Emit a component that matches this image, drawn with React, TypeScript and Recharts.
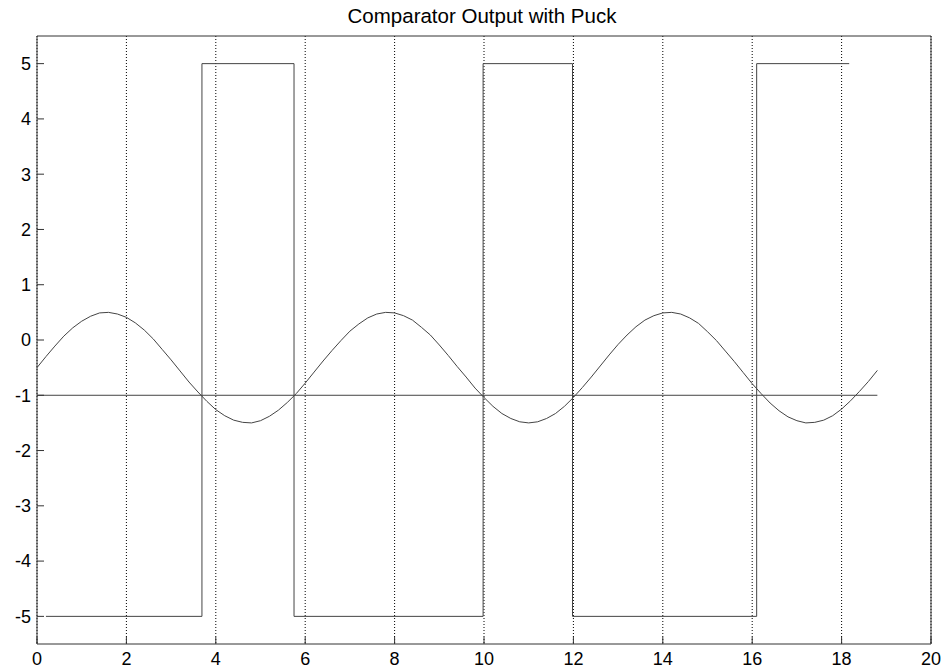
import React from 'react';
import { LineChart, Line, XAxis, YAxis, CartesianGrid } from 'recharts';

const xTicks = [0, 2, 4, 6, 8, 10, 12, 14, 16, 18, 20];
const yTicks = [-5, -4, -3, -2, -1, 0, 1, 2, 3, 4, 5];

const sineX = [
  0, 0.2, 0.4, 0.6, 0.8, 1.0, 1.2, 1.4, 1.6, 1.8, 2.0, 2.2, 2.4, 2.6, 2.8, 3.0, 3.2, 3.4, 3.6, 3.8,
  4.0, 4.2, 4.4, 4.6, 4.8, 5.0, 5.2, 5.4, 5.6, 5.8, 6.0, 6.2, 6.4, 6.6, 6.8, 7.0, 7.2, 7.4, 7.6, 7.8,
  8.0, 8.2, 8.4, 8.6, 8.8, 9.0, 9.2, 9.4, 9.6, 9.8, 10.0, 10.2, 10.4, 10.6, 10.8, 11.0, 11.2, 11.4, 11.6, 11.8,
  12.0, 12.2, 12.4, 12.6, 12.8, 13.0, 13.2, 13.4, 13.6, 13.8, 14.0, 14.2, 14.4, 14.6, 14.8, 15.0, 15.2, 15.4, 15.6, 15.8,
  16.0, 16.2, 16.4, 16.6, 16.8, 17.0, 17.2, 17.4, 17.6, 17.8, 18.0, 18.2, 18.4, 18.6, 18.8,
];
const sineY = [
  -0.5, -0.3, -0.11, 0.07, 0.22, 0.34, 0.43, 0.49, 0.5, 0.47, 0.41, 0.31, 0.18, 0.02, -0.17, -0.36, -0.56, -0.76, -0.94, -1.11,
  -1.26, -1.37, -1.45, -1.49, -1.5, -1.46, -1.38, -1.27, -1.13, -0.97, -0.78, -0.58, -0.38, -0.19, -0.01, 0.16, 0.29, 0.4, 0.47, 0.5,
  0.49, 0.44, 0.36, 0.23, 0.09, -0.09, -0.28, -0.48, -0.67, -0.87, -1.04, -1.2, -1.33, -1.42, -1.48, -1.5, -1.48, -1.42, -1.33, -1.2,
  -1.04, -0.86, -0.67, -0.47, -0.27, -0.08, 0.09, 0.24, 0.36, 0.44, 0.49, 0.5, 0.47, 0.4, 0.3, 0.15, -0.01, -0.2, -0.39, -0.59,
  -0.79, -0.97, -1.14, -1.28, -1.39, -1.46, -1.5, -1.49, -1.45, -1.37, -1.25, -1.1, -0.93, -0.75, -0.55,
];

const squareX = [0.2, 3.69, 3.69, 5.75, 5.75, 9.98, 9.98, 11.98, 11.98, 16.1, 16.1, 18.17];
const squareY = [-5, -5, 5, 5, -5, -5, 5, 5, -5, -5, 5, 5];

const refX = [0, 18.8];
const refY = [-1, -1];

const sineData = sineX.map((x, i) => ({ x, y: sineY[i] }));
const squareData = squareX.map((x, i) => ({ x, y: squareY[i] }));
const refData = refX.map((x, i) => ({ x, y: refY[i] }));

const FONT = '"Liberation Sans", Arial, sans-serif';
const AXIS = '#333333';
const LINE = '#444444';
const tickStyle = { fontSize: 18, fill: '#000', fontFamily: FONT };

export default function App() {
  return (
    <div style={{ position: 'absolute', left: 0, top: 0, width: 943, height: 668, background: '#fff' }}>
      <div
        style={{
          position: 'absolute',
          left: 33,
          width: 898,
          top: 4,
          textAlign: 'center',
          fontFamily: FONT,
          fontSize: 20.5,
          lineHeight: '24px',
          color: '#000',
          whiteSpace: 'nowrap',
        }}
      >
        Comparator Output with Puck
      </div>
      <LineChart width={943} height={668} margin={{ top: 35, right: 11, bottom: 0, left: 0 }}>
        <CartesianGrid horizontal={false} vertical stroke="#000" strokeDasharray="1 2" />
        <XAxis
          dataKey="x"
          type="number"
          domain={[0, 20]}
          ticks={xTicks}
          height={24}
          stroke={AXIS}
          tickSize={-7}
          tickMargin={15}
          tick={tickStyle}
          interval={0}
        />
        <XAxis
          xAxisId="t"
          orientation="top"
          dataKey="x"
          type="number"
          domain={[0, 20]}
          ticks={xTicks}
          height={1}
          stroke={AXIS}
          tickSize={-7}
          tickFormatter={() => ''}
          interval={0}
        />
        <YAxis
          type="number"
          domain={[-5.5, 5.5]}
          ticks={yTicks}
          width={37}
          stroke={AXIS}
          tickSize={-7}
          tickMargin={13}
          tick={tickStyle}
          interval={0}
        />
        <YAxis
          yAxisId="r"
          orientation="right"
          type="number"
          domain={[-5.5, 5.5]}
          ticks={yTicks}
          width={1}
          stroke={AXIS}
          tickSize={-7}
          tickFormatter={() => ''}
          interval={0}
        />
        <Line data={sineData} dataKey="y" type="linear" stroke={LINE} strokeWidth={1} dot={false} isAnimationActive={false} />
        <Line data={refData} dataKey="y" type="linear" stroke={LINE} strokeWidth={1} dot={false} isAnimationActive={false} />
        <Line data={squareData} dataKey="y" type="linear" stroke={LINE} strokeWidth={1} dot={false} isAnimationActive={false} />
      </LineChart>
    </div>
  );
}
